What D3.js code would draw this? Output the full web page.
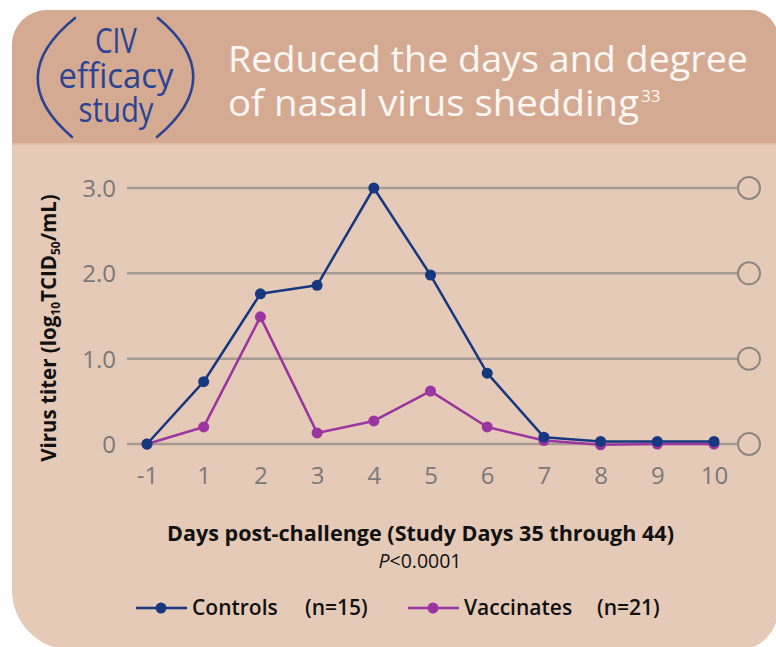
<!DOCTYPE html>
<html>
<head>
<meta charset="utf-8">
<script src="https://cdn.jsdelivr.net/npm/d3@7"></script>
<style>
  body { margin: 0; background: #fff; }
  svg { display: block; font-family: "Open Sans", "DejaVu Sans", sans-serif; }
</style>
</head>
<body>
<div id="svganchor"></div>
<script>
let width = 776, height = 647;

// data
let days = ["-1", "1", "2", "3", "4", "5", "6", "7", "8", "9", "10"];
let controls = [0, 0.73, 1.76, 1.86, 3.0, 1.98, 0.83, 0.08, 0.03, 0.03, 0.03];
let vaccinates = [0, 0.2, 1.49, 0.13, 0.27, 0.62, 0.2, 0.04, -0.01, 0, 0];
let yTicks = [0, 1, 2, 3];
let seriesNames = ["Controls", "Vaccinates"];
let seriesN = ["(n=15)", "(n=21)"];

let colors = { controls: "#17377f", vaccinates: "#9b36a0" };
let bandColor = "#d5aa93", bodyColor = "#e6cab8", gridColor = "#a69b92";

let svg = d3.select("#svganchor")
    .append("svg")
    .attr("width", width)
    .attr("height", height);

// panel with uneven rounded corners
function roundedRect(x, y, w, h, r) {
    let [tl, tr, br, bl] = r;
    return "M" + (x + tl) + "," + y +
        "H" + (x + w - tr) + "A" + tr + "," + tr + " 0 0 1 " + (x + w) + "," + (y + tr) +
        "V" + (y + h - br) + "A" + br + "," + br + " 0 0 1 " + (x + w - br) + "," + (y + h) +
        "H" + (x + bl) + "A" + bl + "," + bl + " 0 0 1 " + x + "," + (y + h - bl) +
        "V" + (y + tl) + "A" + tl + "," + tl + " 0 0 1 " + (x + tl) + "," + y + "Z";
}

let panelPath = roundedRect(12, 10, 766, 640, [35, 28, 40, 60]);

svg.append("defs").append("clipPath")
    .attr("id", "panelClip")
    .append("path")
    .attr("d", panelPath);

svg.append("path")
    .attr("d", panelPath)
    .attr("fill", bodyColor);

svg.append("rect")
    .attr("clip-path", "url(#panelClip)")
    .attr("x", 0)
    .attr("y", 0)
    .attr("width", width)
    .attr("height", 143)
    .attr("fill", bandColor);

svg.append("line")
    .attr("x1", 12).attr("x2", width)
    .attr("y1", 144).attr("y2", 144)
    .attr("stroke", "#dfbca8")
    .attr("stroke-width", 2);

// header: "(CIV efficacy study)"
let civBlue = "#2b4391";
svg.append("path")
    .attr("d", "M75,18 Q2,77 72,137")
    .attr("fill", "none")
    .attr("stroke", civBlue)
    .attr("stroke-width", 2.6)
    .attr("stroke-linecap", "round");

svg.append("path")
    .attr("d", "M158,18 Q229,77 157,137")
    .attr("fill", "none")
    .attr("stroke", civBlue)
    .attr("stroke-width", 2.6)
    .attr("stroke-linecap", "round");

let civLines = [["CIV", 53, 42], ["efficacy", 88, 115], ["study", 122, 75]];
svg.selectAll(".civ")
    .data(civLines)
    .enter()
    .append("text")
    .attr("class", "civ")
    .attr("x", 116)
    .attr("y", function(d) { return d[1]; })
    .attr("text-anchor", "middle")
    .attr("textLength", function(d) { return d[2]; })
    .attr("lengthAdjust", "spacingAndGlyphs")
    .attr("fill", civBlue)
    .style("font-size", "34px")
    .text(function(d) { return d[0]; });

let title = svg.append("g")
    .attr("fill", "#fdf7f3")
    .style("font-size", "36px");

title.append("text")
    .attr("x", 228)
    .attr("y", 72)
    .attr("textLength", 520)
    .attr("lengthAdjust", "spacingAndGlyphs")
    .text("Reduced the days and degree");

title.append("text")
    .attr("x", 228)
    .attr("y", 116)
    .attr("textLength", 411)
    .attr("lengthAdjust", "spacingAndGlyphs")
    .text("of nasal virus shedding");

title.append("text")
    .attr("x", 641)
    .attr("y", 102)
    .style("font-size", "17px")
    .text("33");

// scales
let xScale = d3.scalePoint()
    .domain(days)
    .range([147, 714]);

let yScale = d3.scaleLinear()
    .domain([0, 3])
    .range([444, 188]);

let gridLeft = 127, gridRight = 738;

let grid = svg.append("g");
grid.selectAll("line")
    .data(yTicks)
    .enter()
    .append("line")
    .attr("x1", gridLeft)
    .attr("x2", gridRight)
    .attr("y1", function(d) { return yScale(d); })
    .attr("y2", function(d) { return yScale(d); })
    .attr("stroke", gridColor)
    .attr("stroke-width", 2.5);

grid.selectAll("circle")
    .data(yTicks)
    .enter()
    .append("circle")
    .attr("cx", gridRight + 11)
    .attr("cy", function(d) { return yScale(d); })
    .attr("r", 11)
    .attr("fill", bodyColor)
    .attr("stroke", "#8e8780")
    .attr("stroke-width", 2);

// axes
let yAxis = d3.axisLeft(yScale)
    .tickValues(yTicks)
    .tickFormat(function(d) { return d === 0 ? "0" : d3.format(".1f")(d); })
    .tickSize(0)
    .tickPadding(11);

let gY = svg.append("g")
    .attr("transform", "translate(" + gridLeft + ",0)")
    .call(yAxis);

let xAxis = d3.axisBottom(xScale)
    .tickSize(0);

let gX = svg.append("g")
    .attr("transform", "translate(0," + yScale(0) + ")")
    .call(xAxis);

[gX, gY].forEach(function(g) {
    g.select(".domain").remove();
    g.selectAll("text")
        .attr("fill", "#7b7877")
        .style("font-family", "'Open Sans', sans-serif")
        .style("font-size", "24px");
});
gX.selectAll("text").attr("y", 40).attr("dy", 0);
gY.selectAll("text").attr("dy", "0.36em");

// lines and dots
let line = d3.line()
    .x(function(d, i) { return xScale(days[i]); })
    .y(function(d) { return yScale(d); });

[["vaccinates", vaccinates], ["controls", controls]].forEach(function(s) {
    let c = colors[s[0]];
    svg.append("path")
        .datum(s[1])
        .attr("d", line)
        .attr("fill", "none")
        .attr("stroke", c)
        .attr("stroke-width", 2.5)
        .attr("stroke-linejoin", "round");

    svg.append("g").selectAll("circle")
        .data(s[1])
        .enter()
        .append("circle")
        .attr("cx", function(d, i) { return xScale(days[i]); })
        .attr("cy", function(d) { return yScale(d); })
        .attr("r", 5.5)
        .attr("fill", c);
});

// axis titles
let yTitle = svg.append("text")
    .attr("transform", "translate(56,328) rotate(-90)")
    .attr("text-anchor", "middle")
    .attr("fill", "#111")
    .style("font-size", "20.5px")
    .style("font-weight", 700);
yTitle.append("tspan").text("Virus titer (log");
yTitle.append("tspan").attr("dy", 4).style("font-size", "12px").text("10");
yTitle.append("tspan").attr("dy", -4).text("TCID");
yTitle.append("tspan").attr("dy", 4).style("font-size", "12px").text("50");
yTitle.append("tspan").attr("dy", -4).text("/mL)");

svg.append("text")
    .attr("x", 167)
    .attr("y", 541)
    .attr("textLength", 507)
    .attr("lengthAdjust", "spacingAndGlyphs")
    .attr("fill", "#111")
    .style("font-size", "20.5px")
    .style("font-weight", 700)
    .text("Days post-challenge (Study Days 35 through 44)");

let pText = svg.append("text")
    .attr("x", 420)
    .attr("y", 568)
    .attr("text-anchor", "middle")
    .attr("fill", "#111")
    .style("font-size", "19.5px");
pText.append("tspan").style("font-style", "italic").text("P");
pText.append("tspan").text("<0.0001");

// legend
let legendX = [136, 408];
let legendN = [169, 189];
let legend = svg.append("g")
    .selectAll("g")
    .data(seriesNames)
    .enter()
    .append("g")
    .attr("transform", function(d, i) { return "translate(" + legendX[i] + ",608)"; });

legend.append("line")
    .attr("x1", 0).attr("x2", 51)
    .attr("stroke", function(d) { return colors[d.toLowerCase()]; })
    .attr("stroke-width", 2.5);

legend.append("circle")
    .attr("cx", 25)
    .attr("r", 5.5)
    .attr("fill", function(d) { return colors[d.toLowerCase()]; });

legend.append("text")
    .attr("x", 56)
    .attr("y", 7)
    .attr("fill", "#111")
    .style("font-size", "21px")
    .style("font-weight", 600)
    .text(function(d) { return d; });

legend.append("text")
    .attr("x", function(d, i) { return legendN[i]; })
    .attr("y", 7)
    .attr("fill", "#111")
    .style("font-size", "21px")
    .style("font-weight", 600)
    .text(function(d, i) { return seriesN[i]; });
</script>
</body>
</html>
